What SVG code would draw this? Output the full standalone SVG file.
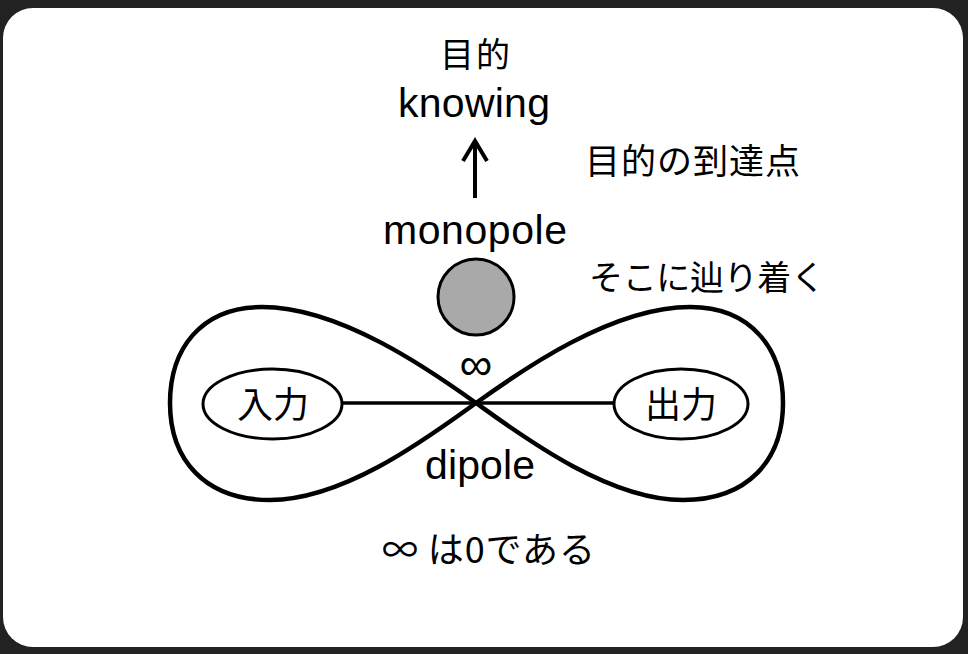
<svg xmlns="http://www.w3.org/2000/svg" width="968" height="654" viewBox="0 0 968 654">
<style>
.lat{font-family:"Liberation Sans","Noto Sans CJK JP",sans-serif;fill:#000;text-anchor:middle}
.jp{font-family:"Noto Sans CJK JP","Liberation Sans",sans-serif;fill:#000}
.ln{fill:none;stroke:#000;stroke-width:4.5}
.el{fill:#fff;stroke:#000;stroke-width:3}
</style>
<rect x="0" y="0" width="968" height="654" fill="#222"/>
<rect x="3" y="8" width="960" height="639" rx="30" fill="#fff"/>
<g id="connectors">
<path class="ln" d="M476,403 C430,370 340,307 262,307 C200,307 170,350 170,403 C170,460 205,500 270,500 C345,500 430,436 476,403 C522,370 612,307 690,307 C752,307 783,350 783,403 C783,460 748,500 683,500 C608,500 522,436 476,403 Z"/>
<line x1="342" y1="403" x2="614" y2="403" stroke="#000" stroke-width="3.5"/>
<line x1="475" y1="198" x2="475" y2="142" stroke="#000" stroke-width="4"/>
<path d="M463,161 L475,141 L487,161" fill="none" stroke="#000" stroke-width="4"/>
</g>
<g id="goal"><text class="jp" x="475" y="67" font-size="34" text-anchor="middle" textLength="70">目的</text></g>
<g id="knowing"><text class="lat" x="474" y="117" font-size="41" textLength="152">knowing</text></g>
<g id="goal-point"><text class="jp" x="585" y="174" font-size="35" textLength="215">目的の到達点</text></g>
<g id="monopole"><text class="lat" x="475" y="244" font-size="41" textLength="184">monopole</text></g>
<g id="arrive"><text class="jp" x="589" y="290" font-size="34" textLength="236">そこに辿り着く</text></g>
<g id="monopole-circle"><circle cx="476" cy="297" r="38" fill="#a9a9a9" stroke="#000" stroke-width="3"/></g>
<g id="inf"><text class="lat" x="476" y="380" font-size="46">∞</text></g>
<g id="input"><ellipse class="el" cx="272.5" cy="404" rx="69.5" ry="35"/><text class="jp" x="273" y="418" font-size="36" text-anchor="middle">入力</text></g>
<g id="output"><ellipse class="el" cx="681" cy="404" rx="67" ry="35"/><text class="jp" x="681" y="418" font-size="36" text-anchor="middle">出力</text></g>
<g id="dipole"><text class="lat" x="480" y="479" font-size="41" textLength="110">dipole</text></g>
<g id="zero"><text class="jp" x="382" y="563" font-size="36" textLength="213">∞ は0である</text></g>
</svg>
